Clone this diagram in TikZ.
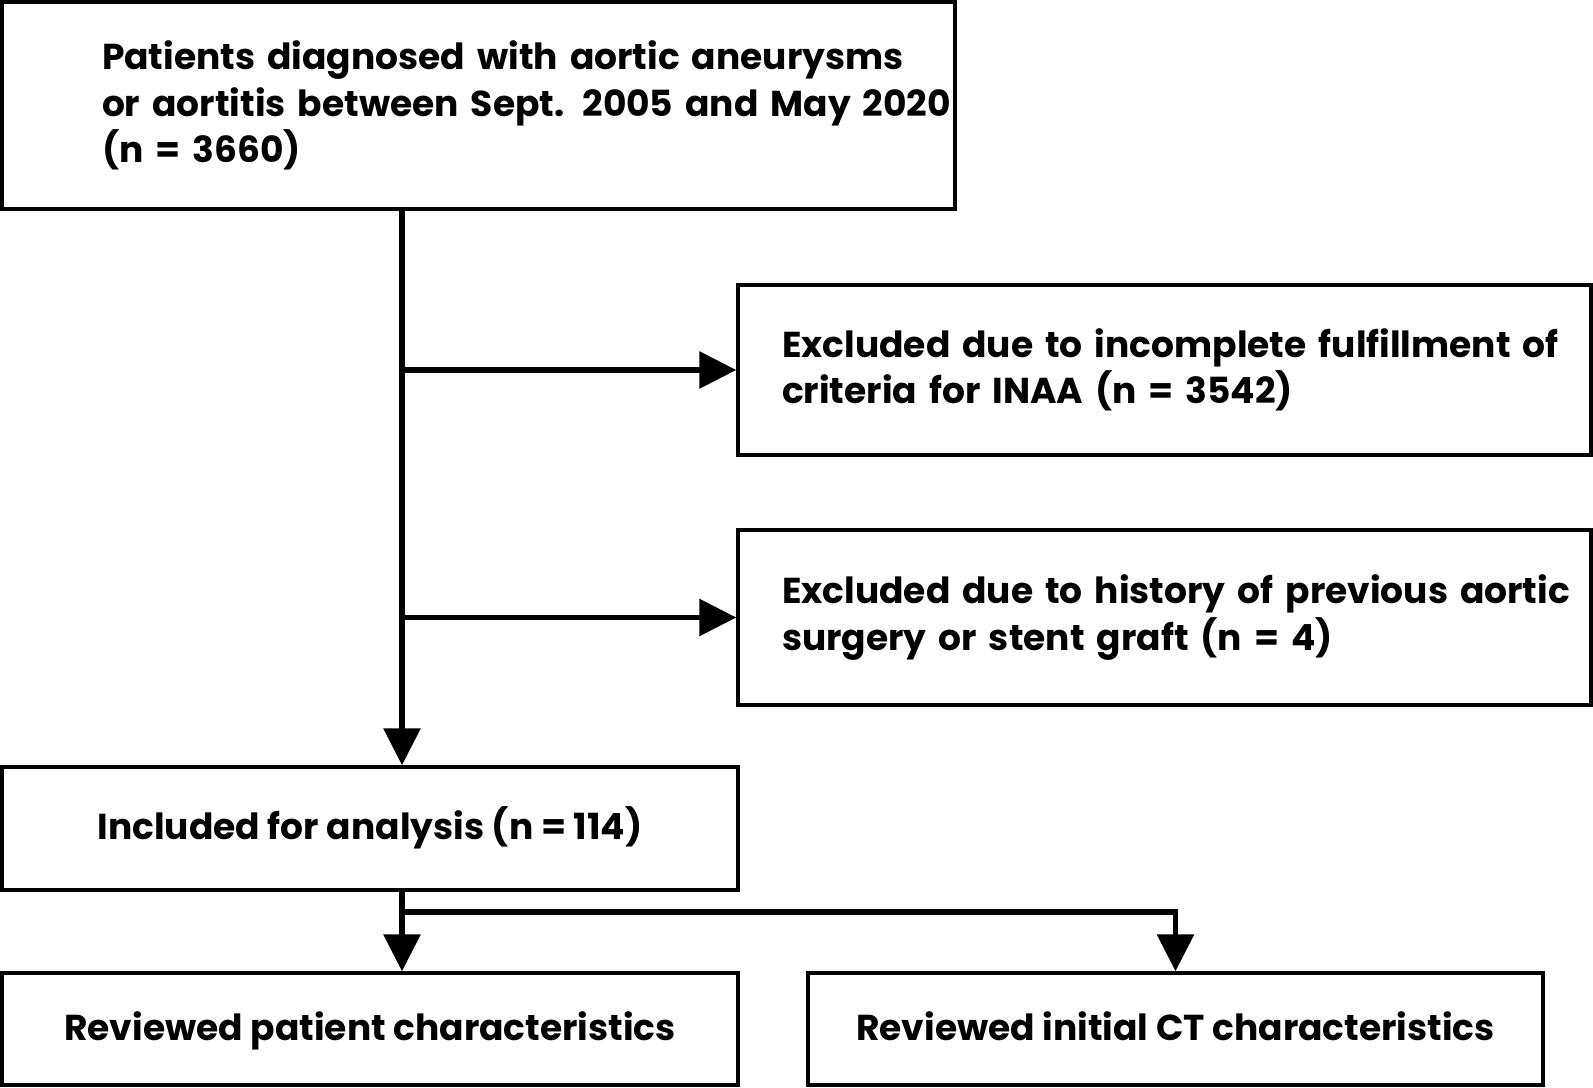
\documentclass[tikz,border=0pt]{standalone}
\usepackage{fontspec}
\setmainfont{Poppins}
\usetikzlibrary{arrows.meta}

\tikzset{
    box/.style={draw, line width=1.9pt, rectangle, font=\fontsize{20.5}{26.5}\selectfont\bfseries},
    onebox/.style={box, text height=2.6ex, text depth=0.3ex},
    link/.style={line width=3.4pt},
    arr/.style={link, -{Triangle[length=0.74cm, width=0.72cm]}}
}

\begin{document}
\begin{tikzpicture}[x=0.02cm, y=-0.02cm]
    \useasboundingbox (0,0) rectangle (1593,1088);

    \node[box, minimum width=953*0.02cm, minimum height=207*0.02cm, text width=753*0.02cm, inner xsep=2cm, align=left] (pat) at (478.5,105.5)
        {\mbox{Patients diagnosed with aortic aneurysms}\\\mbox{or aortitis between Sept. 2005 and May 2020}\\(n = 3660)};

    \node[box, minimum width=853*0.02cm, minimum height=170*0.02cm, text width=765*0.02cm, inner xsep=0.88cm, align=left] (exa) at (1164.5,370)
        {\mbox{Excluded due to incomplete fulfillment of}\\criteria for INAA (n = 3542)};
    \node[box, minimum width=853*0.02cm, minimum height=175*0.02cm, text width=765*0.02cm, inner xsep=0.88cm, align=left] (exb) at (1164.5,617.5)
        {\mbox{Excluded due to history of previous aortic}\\surgery or stent graft (n = 4)};

    \node[onebox, minimum width=736*0.02cm, minimum height=123*0.02cm] (inc) at (370,828.5) {Included for analysis (n = 114)};

    \node[onebox, minimum width=736*0.02cm, minimum height=112*0.02cm] (revp) at (370,1029) {Reviewed patient characteristics};
    \node[onebox, minimum width=735*0.02cm, minimum height=112*0.02cm] (revc) at (1175.5,1029) {Reviewed initial CT characteristics};

    \coordinate (trunk) at (402,0);
    \coordinate (ta) at (402,370);
    \coordinate (tb) at (402,617.5);
    \coordinate (tc) at (402,912);

    \draw[arr] (pat.south -| trunk) -- (inc.north -| trunk);
    \draw[arr] (ta) -- (exa.west);
    \draw[arr] (tb) -- (exb.west);

    \draw[arr] (inc.south -| trunk) -- (revp.north -| trunk);
    \draw[arr] (tc) -| (revc.north);
\end{tikzpicture}
\end{document}
